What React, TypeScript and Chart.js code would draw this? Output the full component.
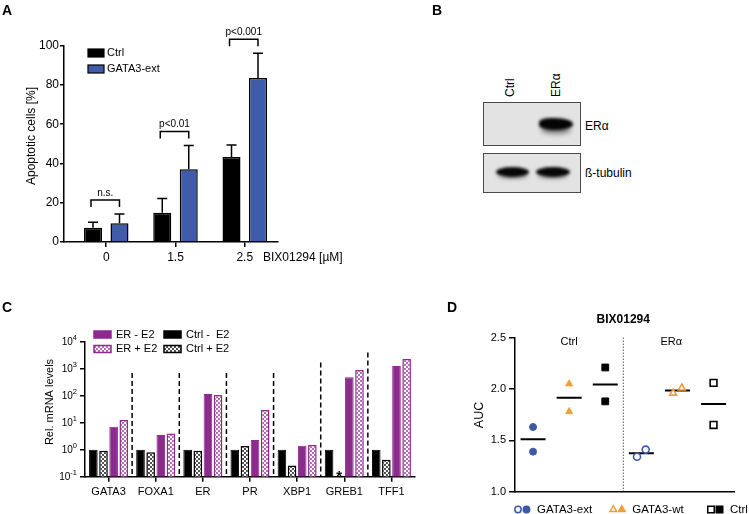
import React, { useEffect, useRef } from 'react';
import { Chart, registerables } from 'chart.js';
Chart.register(...registerables);

const FONT = "'Liberation Sans', Arial, Helvetica, sans-serif";

// ---------- Panel A data ----------
const doseLabels = ['0', '1.5', '2.5'];
const ctrlApoptosis = [7.3, 14.9, 43.3];
const ctrlApoptosisErr = [2.7, 7.2, 6.1];
const gataApoptosis = [9.5, 37.0, 83.5];
const gataApoptosisErr = [4.8, 12.2, 12.6];
const pLabels = ['n.s.', 'p<0.01', 'p<0.001'];
const apoptosisTicks = [0, 20, 40, 60, 80, 100];

// ---------- Panel C data ----------
const genes = ['GATA3', 'FOXA1', 'ER', 'PR', 'XBP1', 'GREB1', 'TFF1'];
const ctrlMinusE2 = [1, 1, 1, 1, 1, 1, 1];
const ctrlPlusE2 = [0.92, 0.8, 0.92, 1.37, 0.26, null, 0.42];
const erMinusE2 = [7.1, 3.5, 115, 2.3, 1.4, 480, 1260];
const erPlusE2 = [12.6, 4.0, 106, 29.5, 1.5, 890, 2280];
const separatorTops = [700, 700, 700, 700, 1700, 4000];
const logTicks = [0.1, 1, 10, 100, 1000, 10000];
const starGeneIndex = 5;

// ---------- Panel D data ----------
const aucCtrlGATA3ext = [1.63, 1.39];
const aucCtrlGATA3wt = [2.05, 1.78];
const aucCtrlCtrl = [2.21, 1.88];
const aucERaGATA3ext = [1.34, 1.41];
const aucERaGATA3wt = [1.96, 2.01];
const aucERaCtrl = [2.06, 1.65];
const aucTicks = [1.0, 1.5, 2.0, 2.5];
const cellLines = ['Ctrl', 'ERα'];

const BLUE_A = '#3f5cab';
const PURPLE = '#8c2a8e';
const BLUE_D = '#3d5aa8';
const ORANGE = '#f09e3a';

function dotPattern(ctx: CanvasRenderingContext2D, color: string): CanvasPattern | string {
  const c = document.createElement('canvas');
  c.width = 4; c.height = 4;
  const g = c.getContext('2d');
  if (!g) return '#fff';
  g.fillStyle = '#fff';
  g.fillRect(0, 0, 4, 4);
  g.fillStyle = color;
  g.beginPath(); g.arc(1, 1, 0.9, 0, Math.PI * 2); g.fill();
  g.beginPath(); g.arc(3, 3, 0.9, 0, Math.PI * 2); g.fill();
  return ctx.createPattern(c, 'repeat') || '#fff';
}

function drawMarker(ctx: CanvasRenderingContext2D, style: string, x: number, y: number, r: number, color: string, filled: boolean) {
  ctx.beginPath();
  if (style === 'circle') ctx.arc(x, y, r, 0, Math.PI * 2);
  else if (style === 'triangle') {
    ctx.moveTo(x, y - r); ctx.lineTo(x + r * 0.866, y + r * 0.5); ctx.lineTo(x - r * 0.866, y + r * 0.5); ctx.closePath();
  } else {
    const s = r * 0.707; ctx.rect(x - s, y - s, 2 * s, 2 * s);
  }
  ctx.lineWidth = 1.5;
  ctx.strokeStyle = color;
  ctx.fillStyle = filled ? color : '#fff';
  ctx.fill();
  ctx.stroke();
}

function rotatedText(ctx: CanvasRenderingContext2D, text: string, x: number, y: number, font: string) {
  ctx.save();
  ctx.translate(x, y);
  ctx.rotate(-Math.PI / 2);
  ctx.font = font;
  ctx.fillStyle = '#000';
  ctx.textAlign = 'center';
  ctx.textBaseline = 'middle';
  ctx.fillText(text, 0, 0);
  ctx.restore();
}

function configA(): any {
  const plugin = {
    id: 'panelA',
    afterDatasetsDraw(chart: any) {
      const ctx: CanvasRenderingContext2D = chart.ctx;
      const ys = chart.scales.y;
      const vals = [ctrlApoptosis, gataApoptosis];
      const errs = [ctrlApoptosisErr, gataApoptosisErr];
      ctx.save();
      ctx.strokeStyle = '#000';
      ctx.lineWidth = 1.5;
      const tops: number[][] = [[], []];
      for (let d = 0; d < 2; d++) {
        const meta = chart.getDatasetMeta(d);
        for (let i = 0; i < vals[d].length; i++) {
          const bar = meta.data[i];
          const yt = ys.getPixelForValue(vals[d][i] + errs[d][i]);
          tops[d][i] = yt;
          ctx.beginPath();
          ctx.moveTo(bar.x, bar.y); ctx.lineTo(bar.x, yt);
          ctx.moveTo(bar.x - 5, yt); ctx.lineTo(bar.x + 5, yt);
          ctx.stroke();
        }
      }
      ctx.font = `10px ${FONT}`;
      ctx.fillStyle = '#000';
      ctx.textAlign = 'center';
      ctx.textBaseline = 'alphabetic';
      for (let i = 0; i < pLabels.length; i++) {
        const xl = chart.getDatasetMeta(0).data[i].x - 2;
        const xr = chart.getDatasetMeta(1).data[i].x;
        const top = Math.min(tops[0][i], tops[1][i]);
        const by = top - 14;
        ctx.beginPath();
        ctx.moveTo(xl, by + 7); ctx.lineTo(xl, by); ctx.lineTo(xr, by); ctx.lineTo(xr, by + 7);
        ctx.stroke();
        ctx.fillText(pLabels[i], (xl + xr) / 2, by - 4);
      }
      // legend
      const ds = chart.data.datasets;
      ctx.font = `11px ${FONT}`;
      ctx.textAlign = 'left';
      ctx.textBaseline = 'middle';
      for (let d = 0; d < ds.length; d++) {
        const yc = 53 + d * 16;
        ctx.fillStyle = ds[d].backgroundColor;
        ctx.fillRect(88, yc - 4, 16, 8);
        ctx.lineWidth = 1.2;
        ctx.strokeStyle = '#000';
        ctx.strokeRect(88, yc - 4, 16, 8);
        ctx.fillStyle = '#000';
        ctx.fillText(ds[d].label, 107, yc);
      }
      ctx.font = `12px ${FONT}`;
      ctx.fillText('BIX01294 [µM]', 263, 258);
      ctx.restore();
      rotatedText(ctx, 'Apoptotic cells [%]', 31.7, 136, `12px ${FONT}`);
    },
  };
  return {
    type: 'bar',
    data: {
      datasets: [
        { label: 'Ctrl', data: ctrlApoptosis.map((y, i) => ({ x: i, y })), backgroundColor: '#000', borderColor: '#000', borderWidth: 1.5 },
        { label: 'GATA3-ext', data: gataApoptosis.map((y, i) => ({ x: i, y })), backgroundColor: BLUE_A, borderColor: '#000', borderWidth: 1.5 },
      ],
    },
    options: {
      responsive: false,
      animation: false,
      categoryPercentage: 0.765,
      barPercentage: 0.68,
      layout: { padding: { top: 45.7, right: 92, left: 0, bottom: 0 } },
      plugins: { legend: { display: false }, tooltip: { enabled: false } },
      scales: {
        x: {
          type: 'linear', min: -0.61, max: 2.48, offset: false,
          afterBuildTicks: (s: any) => { s.ticks = doseLabels.map((_, i) => ({ value: i })); },
          ticks: { callback: (v: any) => doseLabels[v] ?? '', font: { family: FONT, size: 12 }, color: '#000', padding: 3, maxRotation: 0, autoSkip: false },
          grid: { display: true, offset: false, drawOnChartArea: false, drawTicks: true, tickLength: 5, color: '#000', lineWidth: 1.5 },
          border: { display: true, color: '#000', width: 1.5 },
          afterFit: (s: any) => { s.height = 38; },
        },
        y: {
          min: 0, max: 100,
          afterBuildTicks: (s: any) => { s.ticks = apoptosisTicks.map((v) => ({ value: v })); },
          ticks: { font: { family: FONT, size: 12 }, color: '#000', padding: 1 },
          grid: { drawOnChartArea: false, tickLength: 4, color: '#000', lineWidth: 1.5 },
          border: { display: true, color: '#000', width: 1.5 },
          afterFit: (s: any) => { s.width = 64; },
        },
      },
    },
    plugins: [plugin],
  };
}

function configC(ctx: CanvasRenderingContext2D): any {
  const blackDots = dotPattern(ctx, '#000');
  const purpleDots = dotPattern(ctx, PURPLE);
  const plugin = {
    id: 'panelC',
    afterDatasetsDraw(chart: any) {
      const c: CanvasRenderingContext2D = chart.ctx;
      const xs = chart.scales.x;
      const ys = chart.scales.y;
      const area = chart.chartArea;
      c.save();
      // dashed separators
      c.strokeStyle = '#000';
      c.lineWidth = 1.5;
      c.setLineDash([5, 3]);
      for (let i = 0; i < separatorTops.length; i++) {
        const x = (xs.getPixelForValue(i) + xs.getPixelForValue(i + 1)) / 2;
        c.beginPath();
        c.moveTo(x, ys.getPixelForValue(separatorTops[i]));
        c.lineTo(x, area.bottom);
        c.stroke();
      }
      c.setLineDash([]);
      // y tick labels with superscripts
      c.fillStyle = '#000';
      for (const v of logTicks) {
        const e = Math.round(Math.log10(v));
        const y = ys.getPixelForValue(v);
        const right = area.left - 8;
        c.font = `7.5px ${FONT}`;
        const sup = String(e).replace('-', '-');
        const sw = c.measureText(sup).width;
        c.textAlign = 'left';
        c.textBaseline = 'middle';
        c.fillText(sup, right - sw, y - 4);
        c.font = `10px ${FONT}`;
        c.textAlign = 'right';
        c.fillText('10', right - sw, y + 1);
      }
      // star for missing value
      const m0 = chart.getDatasetMeta(1).data[0];
      const xStar = m0.x + xs.getPixelForValue(starGeneIndex) - xs.getPixelForValue(0);
      c.font = `bold 15px ${FONT}`;
      c.textAlign = 'center';
      c.textBaseline = 'alphabetic';
      c.fillText('*', xStar, area.bottom + 4);
      // legend
      const ds = chart.data.datasets;
      const items = [
        { d: 2, x: 94, y: 54.5 },
        { d: 3, x: 94, y: 69 },
        { d: 0, x: 164, y: 54.5 },
        { d: 1, x: 164, y: 69 },
      ];
      c.font = `11px ${FONT}`;
      c.textAlign = 'left';
      c.textBaseline = 'middle';
      for (const it of items) {
        const dset = ds[it.d];
        c.fillStyle = dset.backgroundColor;
        c.fillRect(it.x, it.y - 3.5, 17, 7);
        c.lineWidth = 1.5;
        c.strokeStyle = dset.borderColor;
        c.strokeRect(it.x, it.y - 3.5, 17, 7);
        c.fillStyle = '#000';
        c.fillText(dset.label, it.x + 22, it.y);
      }
      c.restore();
      rotatedText(c, 'Rel. mRNA levels', 50, 122, `11px ${FONT}`);
    },
  };
  return {
    type: 'bar',
    data: {
      labels: genes,
      datasets: [
        { label: 'Ctrl -  E2', data: ctrlMinusE2, backgroundColor: '#000', borderColor: '#000', borderWidth: 1 },
        { label: 'Ctrl + E2', data: ctrlPlusE2, backgroundColor: blackDots, borderColor: '#000', borderWidth: 1.5 },
        { label: 'ER - E2', data: erMinusE2, backgroundColor: PURPLE, borderColor: PURPLE, borderWidth: 1 },
        { label: 'ER + E2', data: erPlusE2, backgroundColor: purpleDots, borderColor: PURPLE, borderWidth: 1.5 },
      ],
    },
    options: {
      responsive: false,
      animation: false,
      categoryPercentage: 0.86,
      barPercentage: 0.85,
      layout: { padding: { top: 61.7, right: 15, left: 0, bottom: 0 } },
      plugins: { legend: { display: false }, tooltip: { enabled: false } },
      scales: {
        x: {
          type: 'category', offset: true,
          ticks: { font: { family: FONT, size: 11 }, color: '#000', padding: 4, maxRotation: 0, autoSkip: false },
          grid: { display: true, offset: false, drawOnChartArea: false, tickLength: 5, color: '#000', lineWidth: 1.5 },
          border: { display: true, color: '#000', width: 1.5 },
          afterFit: (s: any) => { s.height = 37.3; },
        },
        y: {
          type: 'logarithmic', min: 0.1, max: 10000,
          afterBuildTicks: (s: any) => { s.ticks = logTicks.map((v) => ({ value: v })); },
          ticks: { callback: () => '', color: '#000' },
          grid: { drawOnChartArea: false, tickLength: 5, color: '#000', lineWidth: 1.5 },
          border: { display: true, color: '#000', width: 1.5 },
          afterFit: (s: any) => { s.width = 85; },
        },
      },
    },
    plugins: [plugin],
  };
}

function configD(): any {
  const mean = (a: number[]) => a.reduce((s, v) => s + v, 0) / a.length;
  const groups = [
    { vals: aucCtrlGATA3ext, x: 0, jit: [0, 0], style: 'circle', r: 3.5, color: BLUE_D, filled: true },
    { vals: aucCtrlGATA3wt, x: 1, jit: [0, 0], style: 'triangle', r: 4, color: ORANGE, filled: true },
    { vals: aucCtrlCtrl, x: 2, jit: [0, 0], style: 'rect', r: 4.8, color: '#000', filled: true },
    { vals: aucERaGATA3ext, x: 3, jit: [-0.12, 0.12], style: 'circle', r: 3.5, color: BLUE_D, filled: false },
    { vals: aucERaGATA3wt, x: 4, jit: [-0.12, 0.12], style: 'triangle', r: 4, color: ORANGE, filled: false },
    { vals: aucERaCtrl, x: 5, jit: [0, 0], style: 'rect', r: 4.8, color: '#000', filled: false },
  ];
  const datasets: any[] = groups.map((g) => ({
    data: g.vals.map((y, i) => ({ x: g.x + g.jit[i], y })),
    pointStyle: g.style,
    pointRadius: g.r,
    pointBackgroundColor: g.filled ? g.color : '#fff',
    pointBorderColor: g.color,
    pointBorderWidth: g.filled ? 1 : 1.6,
    showLine: false,
  }));
  datasets.push({
    data: groups.map((g) => ({ x: g.x, y: mean(g.vals) })),
    pointStyle: 'line',
    pointRadius: 12.5,
    pointBorderColor: '#000',
    pointBorderWidth: 2,
    showLine: false,
  });
  const plugin = {
    id: 'panelD',
    afterDatasetsDraw(chart: any) {
      const c: CanvasRenderingContext2D = chart.ctx;
      const xs = chart.scales.x;
      const area = chart.chartArea;
      c.save();
      // dotted divider
      c.strokeStyle = '#000';
      c.lineWidth = 1;
      c.setLineDash([1, 2]);
      const xd = xs.getPixelForValue(2.5);
      c.beginPath(); c.moveTo(xd, area.top); c.lineTo(xd, area.bottom); c.stroke();
      c.setLineDash([]);
      // group labels
      c.fillStyle = '#000';
      c.font = `11px ${FONT}`;
      c.textAlign = 'center';
      c.textBaseline = 'middle';
      c.fillText(cellLines[0], xs.getPixelForValue(1), area.top + 4);
      c.fillText(cellLines[1], xs.getPixelForValue(3.83), area.top + 4);
      // title
      c.font = `bold 12px ${FONT}`;
      c.fillText('BIX01294', (area.left + area.right) / 2 - 1.5, 40);
      // legend
      const leg = [
        { label: 'GATA3-ext', style: 'circle', color: BLUE_D, x: 88, r: 3.2 },
        { label: 'GATA3-wt', style: 'triangle', color: ORANGE, x: 183.3, r: 3.8 },
        { label: 'Ctrl', style: 'rect', color: '#000', x: 281, r: 4.6 },
      ];
      const ly = 229.5;
      for (const l of leg) {
        drawMarker(c, l.style, l.x, ly, l.r, l.color, false);
        drawMarker(c, l.style, l.x + 8.5, ly, l.r, l.color, true);
        c.font = `11.5px ${FONT}`;
        c.fillStyle = '#000';
        c.textAlign = 'left';
        c.textBaseline = 'middle';
        c.fillText(l.label, l.x + 19, ly);
      }
      c.restore();
      rotatedText(c, 'AUC', 50, 135, `12.5px ${FONT}`);
    },
  };
  return {
    type: 'scatter',
    data: { datasets },
    options: {
      responsive: false,
      animation: false,
      layout: { padding: { top: 57.7, right: 0, left: 0, bottom: 0 } },
      plugins: { legend: { display: false }, tooltip: { enabled: false } },
      elements: { point: { hoverRadius: 0 } },
      scales: {
        x: {
          type: 'linear', min: -0.5, max: 5.58,
          ticks: { display: false },
          grid: { display: false, drawTicks: false },
          border: { display: true, color: '#000', width: 1.5 },
          afterFit: (s: any) => { s.height = 22.3; },
        },
        y: {
          min: 1.0, max: 2.5,
          afterBuildTicks: (s: any) => { s.ticks = aucTicks.map((v) => ({ value: v })); },
          ticks: { callback: (v: any) => Number(v).toFixed(1), font: { family: FONT, size: 11 }, color: '#000', padding: 3 },
          grid: { drawOnChartArea: false, tickLength: 6, color: '#000', lineWidth: 1.5 },
          border: { display: true, color: '#000', width: 1.5 },
          afterFit: (s: any) => { s.width = 85; },
        },
      },
    },
    plugins: [plugin],
  };
}

const letter = (t: string, left: number, top: number) => (
  <div style={{ position: 'absolute', left, top, font: `bold 14px ${FONT}`, lineHeight: '14px', color: '#000' }}>{t}</div>
);

const vLabel = (t: string, cx: number, bottom: number) => (
  <div style={{ position: 'absolute', left: cx - 7, top: bottom, width: 0, height: 0 }}>
    <span style={{ position: 'absolute', left: 0, top: 0, whiteSpace: 'nowrap', font: `12px ${FONT}`, lineHeight: '14px', transform: 'rotate(-90deg)', transformOrigin: '0 0' }}>{t}</span>
  </div>
);

export default function App() {
  const aRef = useRef<HTMLCanvasElement>(null);
  const cRef = useRef<HTMLCanvasElement>(null);
  const dRef = useRef<HTMLCanvasElement>(null);
  useEffect(() => {
    const charts: Chart[] = [];
    if (aRef.current) charts.push(new Chart(aRef.current, configA()));
    if (cRef.current) {
      const ctx = cRef.current.getContext('2d') as CanvasRenderingContext2D;
      charts.push(new Chart(cRef.current, configC(ctx)));
    }
    if (dRef.current) charts.push(new Chart(dRef.current, configD()));
    return () => charts.forEach((c) => c.destroy());
  }, []);

  const band = (left: number, top: number, w: number, h: number, blur: number, bg: string, radius: string) => (
    <div style={{ position: 'absolute', left, top, width: w, height: h, background: bg, borderRadius: radius, filter: `blur(${blur}px)` }} />
  );

  return (
    <div style={{ position: 'fixed', left: 0, top: 0, width: 749, height: 514, background: '#fff', overflow: 'hidden' }}>
      <canvas ref={aRef} width={370} height={280} style={{ position: 'absolute', left: 0, top: 0, width: 370, height: 280, display: 'block' }} />
      <canvas ref={cRef} width={430} height={234} style={{ position: 'absolute', left: 0, top: 280, width: 430, height: 234, display: 'block' }} />
      <canvas ref={dRef} width={319} height={234} style={{ position: 'absolute', left: 430, top: 280, width: 319, height: 234, display: 'block' }} />
      {letter('A', 2, 3)}
      {letter('B', 432, 3)}
      {letter('C', 2, 300)}
      {letter('D', 447, 300)}
      {/* Panel B: western blot */}
      {vLabel('Ctrl', 510, 97)}
      {vLabel('ERα', 555.5, 97)}
      <div style={{ position: 'absolute', left: 483, top: 102, width: 98, height: 44, boxSizing: 'border-box', border: '1px solid #4a4a4a', background: '#e3e3e3', overflow: 'hidden' }}>
        {band(55, 15, 34, 12, 1.6, '#050505', '40% 60% 55% 45%')}
        {band(57, 23, 30, 8, 2.5, 'rgba(0,0,0,0.45)', '50%')}
      </div>
      <div style={{ position: 'absolute', left: 483, top: 153, width: 98, height: 40, boxSizing: 'border-box', border: '1px solid #4a4a4a', background: '#e3e3e3', overflow: 'hidden' }}>
        {band(12, 13, 33, 10, 1.5, '#080808', '50%')}
        {band(52, 13, 34, 10, 1.5, '#080808', '50%')}
        {band(14, 19, 30, 6, 2.2, 'rgba(0,0,0,0.35)', '50%')}
        {band(54, 19, 30, 6, 2.2, 'rgba(0,0,0,0.35)', '50%')}
      </div>
      <div style={{ position: 'absolute', left: 585, top: 119, font: `12px ${FONT}`, lineHeight: '14px' }}>ERα</div>
      <div style={{ position: 'absolute', left: 585, top: 166, font: `12px ${FONT}`, lineHeight: '14px' }}>ß-tubulin</div>
    </div>
  );
}
